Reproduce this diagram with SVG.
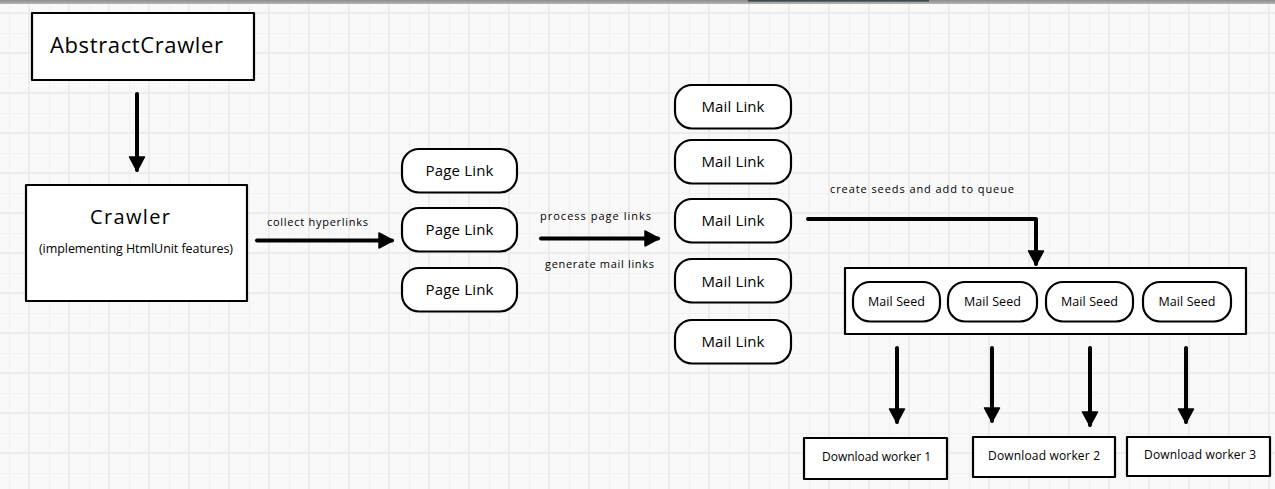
<svg xmlns="http://www.w3.org/2000/svg" width="1275" height="489" viewBox="0 0 1275 489">
<style>
.box{fill:#fff;stroke:#000;stroke-width:2.2;stroke-linejoin:round}
.pill{fill:#fff;stroke:#000;stroke-width:2.2}
.conn{fill:none;stroke:#000;stroke-width:4;stroke-linecap:round;stroke-linejoin:round}
text{font-family:"Open Sans","Liberation Sans",sans-serif;fill:#000}
.lbl{font-size:11px}
.pl{font-size:15px;text-anchor:middle}
.ms{font-size:12.5px;text-anchor:middle}
.dw{font-size:12px}
</style>
<defs>
<pattern id="grid" patternUnits="userSpaceOnUse" x="9" y="13" width="40" height="40">
<rect width="40" height="40" fill="#f9f9f9"/>
<line x1="0.5" y1="0" x2="0.5" y2="40" stroke="#f0f0f0" stroke-width="1"/>
<line x1="0" y1="20.5" x2="40" y2="20.5" stroke="#f0f0f0" stroke-width="1"/>
<line x1="20" y1="0" x2="20" y2="40" stroke="#ececec" stroke-width="2"/>
<line x1="0" y1="0" x2="40" y2="0" stroke="#ececec" stroke-width="2"/>
<line x1="0" y1="40" x2="40" y2="40" stroke="#ececec" stroke-width="2"/>
</pattern>
<linearGradient id="bar" x1="0" y1="0" x2="0" y2="1">
<stop offset="0" stop-color="#8c8c8c"/>
<stop offset="1" stop-color="#b4b4b4"/>
</linearGradient>
<marker id="ah" markerUnits="userSpaceOnUse" markerWidth="18" markerHeight="18" viewBox="0 0 18 18" refX="14" refY="9" orient="auto">
<path d="M1,1.5 L15,9 L1,16.5 Z" fill="#000" stroke="#000" stroke-width="1.5" stroke-linejoin="round"/>
</marker>
</defs>
<rect x="0" y="0" width="1275" height="489" fill="url(#grid)"/>
<rect x="0" y="0" width="1275" height="4" fill="url(#bar)"/>
<rect x="748" y="0" width="181" height="1.6" fill="#3d4649"/>

<g id="connectors">
<line class="conn" x1="137" y1="94" x2="137" y2="170" marker-end="url(#ah)"/>
<line class="conn" x1="257" y1="240.5" x2="392" y2="240.5" marker-end="url(#ah)"/>
<line class="conn" x1="541" y1="238.5" x2="658" y2="238.5" marker-end="url(#ah)"/>
<polyline class="conn" points="808,219 1036,219 1036,264" marker-end="url(#ah)"/>
<line class="conn" x1="897" y1="348" x2="897" y2="422" marker-end="url(#ah)"/>
<line class="conn" x1="992" y1="348" x2="992" y2="421" marker-end="url(#ah)"/>
<line class="conn" x1="1090" y1="348" x2="1090" y2="425" marker-end="url(#ah)"/>
<line class="conn" x1="1186" y1="348" x2="1186" y2="422" marker-end="url(#ah)"/>
<text class="lbl" x="267" y="226" textLength="101">collect hyperlinks</text>
<text class="lbl" x="540" y="220" textLength="111">process page links</text>
<text class="lbl" x="545" y="268" textLength="109">generate mail links</text>
<text class="lbl" x="830" y="193" textLength="184">create seeds and add to queue</text>
</g>

<g id="abstract-crawler">
<rect class="box" x="32" y="13" width="222" height="67"/>
<text x="50" y="53" font-size="22" textLength="173">AbstractCrawler</text>
</g>

<g id="crawler">
<rect class="box" x="26" y="185" width="221" height="116"/>
<text x="130" y="224" font-size="20" text-anchor="middle" textLength="80">Crawler</text>
<text x="136" y="253" font-size="12.5" text-anchor="middle" textLength="194">(implementing HtmlUnit features)</text>
</g>

<g id="page-link-1"><rect class="pill" x="402" y="149" width="115" height="43.5" rx="17"/><text class="pl" x="459.5" y="176" textLength="68">Page Link</text></g>
<g id="page-link-2"><rect class="pill" x="402" y="208" width="115" height="43.5" rx="17"/><text class="pl" x="459.5" y="235" textLength="68">Page Link</text></g>
<g id="page-link-3"><rect class="pill" x="402" y="268" width="115" height="43.5" rx="17"/><text class="pl" x="459.5" y="295" textLength="68">Page Link</text></g>

<g id="mail-link-1"><rect class="pill" x="675" y="85" width="116" height="43.5" rx="17"/><text class="pl" x="733" y="112" textLength="63">Mail Link</text></g>
<g id="mail-link-2"><rect class="pill" x="675" y="140" width="116" height="43.5" rx="17"/><text class="pl" x="733" y="167" textLength="63">Mail Link</text></g>
<g id="mail-link-3"><rect class="pill" x="675" y="199" width="116" height="43.5" rx="17"/><text class="pl" x="733" y="226" textLength="63">Mail Link</text></g>
<g id="mail-link-4"><rect class="pill" x="675" y="259" width="116" height="43.5" rx="17"/><text class="pl" x="733" y="286.5" textLength="63">Mail Link</text></g>
<g id="mail-link-5"><rect class="pill" x="675" y="320" width="116" height="43.5" rx="17"/><text class="pl" x="733" y="346.5" textLength="63">Mail Link</text></g>

<g id="queue">
<rect class="box" x="845" y="268" width="401" height="66"/>
</g>
<g id="mail-seed-1"><rect class="pill" x="853" y="282" width="87" height="39.5" rx="17"/><text class="ms" x="896.5" y="306" textLength="57">Mail Seed</text></g>
<g id="mail-seed-2"><rect class="pill" x="948" y="282" width="89" height="39.5" rx="17"/><text class="ms" x="992.5" y="306" textLength="57">Mail Seed</text></g>
<g id="mail-seed-3"><rect class="pill" x="1046" y="282" width="87" height="39.5" rx="17"/><text class="ms" x="1089.5" y="306" textLength="57">Mail Seed</text></g>
<g id="mail-seed-4"><rect class="pill" x="1143" y="282" width="88" height="39.5" rx="17"/><text class="ms" x="1187" y="306" textLength="57">Mail Seed</text></g>

<g id="download-worker-1"><rect class="box" x="804" y="438" width="143" height="41"/><text class="dw" x="822" y="461" textLength="109">Download worker 1</text></g>
<g id="download-worker-2"><rect class="box" x="973" y="437" width="142" height="40"/><text class="dw" x="988" y="460" textLength="112">Download worker 2</text></g>
<g id="download-worker-3"><rect class="box" x="1127" y="437" width="143" height="39"/><text class="dw" x="1144" y="458.5" textLength="112">Download worker 3</text></g>
</svg>
